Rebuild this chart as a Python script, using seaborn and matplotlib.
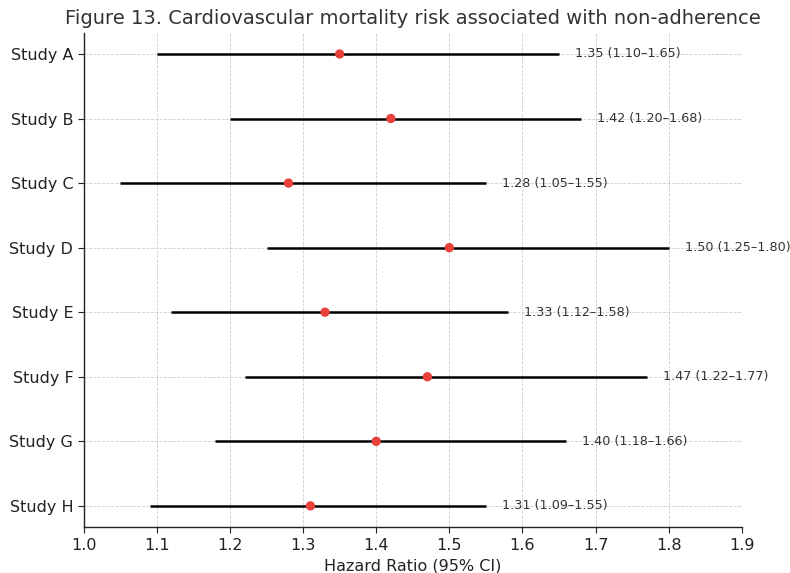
import matplotlib
matplotlib.use("Agg")
import matplotlib.pyplot as plt
import seaborn as sns
import numpy as np
import pandas as pd

studies = ["Study A", "Study B", "Study C", "Study D", "Study E", "Study F", "Study G", "Study H"]
hr = [1.35, 1.42, 1.28, 1.50, 1.33, 1.47, 1.40, 1.31]
lower = [1.10, 1.20, 1.05, 1.25, 1.12, 1.22, 1.18, 1.09]
upper = [1.65, 1.68, 1.55, 1.80, 1.58, 1.77, 1.66, 1.55]
xticks = [1.0, 1.1, 1.2, 1.3, 1.4, 1.5, 1.6, 1.7, 1.8, 1.9]

df = pd.DataFrame({"study": studies, "hr": hr, "lower": lower, "upper": upper})
df["pos"] = np.arange(len(df))

sns.set_style("white")
plt.rcParams['font.family'] = ['DejaVu Sans']
fig, ax = plt.subplots(figsize=(7.9, 5.73), dpi=100)
fig.subplots_adjust(left=0.106, right=0.939, bottom=0.080, top=0.943)

ax.hlines(df["pos"], df["lower"], df["upper"], color="black", linewidth=1.8, zorder=2)
sns.scatterplot(data=df, x="hr", y="pos", color="#e8403a", s=45, edgecolor="none", zorder=3, ax=ax)

for _, r in df.iterrows():
    ax.text(r["upper"] + 0.022, r["pos"], f"{r['hr']:.2f} ({r['lower']:.2f}–{r['upper']:.2f})",
            va="center", ha="left", fontsize=9.2, color="#333333")

ax.set_yticks(df["pos"])
ax.set_yticklabels(studies)
ax.set_ylim(len(df) - 1 + 0.33, -0.33)
ax.set_xlim(1.0, 1.9)
ax.set_xticks(xticks)
ax.set_xticklabels([f"{t:.1f}" for t in xticks])
ax.tick_params(axis="both", labelsize=11.5, colors="#222222", length=4, left=True, bottom=True)
ax.grid(True, linestyle="--", linewidth=0.6, color="#cccccc")
ax.set_axisbelow(True)
sns.despine(ax=ax)
for s in ["left", "bottom"]:
    ax.spines[s].set_color("#222222")
    ax.spines[s].set_linewidth(1.0)
ax.set_xlabel("Hazard Ratio (95% CI)", fontsize=11.5, color="#222222")
ax.set_ylabel("")
ax.set_title("Figure 13. Cardiovascular mortality risk associated with non-adherence", fontsize=14, color="#333333", pad=6)

fig.savefig("out.png", dpi=100)
